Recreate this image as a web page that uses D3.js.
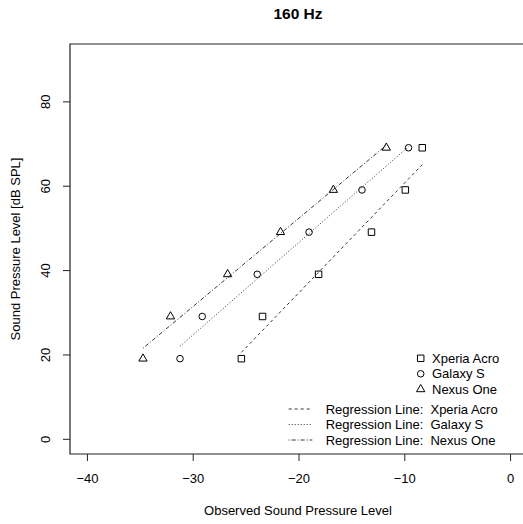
<!DOCTYPE html>
<html>
<head>
<meta charset="utf-8">
<script src="https://cdn.jsdelivr.net/npm/d3@7"></script>
<style>
  body { margin: 0; background: #fff; overflow: hidden; }
  svg { display: block; font-family: "Liberation Sans", Arial, Helvetica, sans-serif; }
</style>
</head>
<body>
<div id="chart"></div>
<script>
// levels measured (y) and the observed level per phone (x)
var levels = [19, 29, 39, 49, 59, 69];
var xperiaX = [-25.4, -23.4, -18.1, -13.1, -9.9, -8.3];
var galaxyX = [-31.2, -29.1, -23.9, -19.0, -14.0, -9.6];
var nexusX = [-34.7, -32.1, -26.7, -21.7, -16.7, -11.7];

var phones = ["Xperia Acro", "Galaxy S", "Nexus One"];
var xTicks = [-40, -30, -20, -10, 0];
var yTicks = [0, 20, 40, 60, 80];

var W = 523, H = 524;
var margin = { left: 70, top: 44, right: -4, bottom: 70 };

var svg = d3.select("#chart").append("svg")
  .attr("width", W)
  .attr("height", H);

// R style limits: xlim c(-40,0), ylim c(0,90) plus 4%
var x = d3.scaleLinear().domain([-41.6, 1.6]).range([margin.left, W - margin.right]);
var y = d3.scaleLinear().domain([-3.6, 93.6]).range([H - margin.bottom, margin.top]);

var shapes = [d3.symbolSquare, d3.symbolCircle, d3.symbolTriangle];
var sizes = [42, 34, 30];
var dashes = ["3,3", "1,2", "1,2,4,2"];

var series = [xperiaX, galaxyX, nexusX].map(function (xs, i) {
  return { name: phones[i], pts: xs.map(function (v, j) { return [v, levels[j]]; }), k: i };
});

// least squares fit y ~ x
function fit(pts) {
  var mx = d3.mean(pts, d => d[0]), my = d3.mean(pts, d => d[1]);
  var sxy = d3.sum(pts, d => (d[0] - mx) * (d[1] - my));
  var sxx = d3.sum(pts, d => (d[0] - mx) * (d[0] - mx));
  var b = sxy / sxx;
  return function (v) { return my + b * (v - mx); };
}

var plot = svg.append("g");

series.forEach(function (s) {
  var f = fit(s.pts);
  var ext = d3.extent(s.pts, d => d[0]);
  plot.append("line")
    .attr("x1", x(ext[0])).attr("y1", y(f(ext[0])))
    .attr("x2", x(ext[1])).attr("y2", y(f(ext[1])))
    .attr("stroke", "#000")
    .attr("stroke-width", 0.8)
    .attr("stroke-dasharray", dashes[s.k]);

  plot.selectAll(".p" + s.k)
    .data(s.pts)
    .enter()
    .append("path")
    .attr("class", "p" + s.k)
    .attr("d", d3.symbol().type(shapes[s.k]).size(sizes[s.k]))
    .attr("transform", d => "translate(" + x(d[0]) + "," + y(d[1]) + ")")
    .attr("fill", "none")
    .attr("stroke", "#000")
    .attr("stroke-width", 1);
});

// axes
var xAxis = svg.append("g")
  .attr("transform", "translate(0," + (H - margin.bottom) + ")")
  .call(d3.axisBottom(x).tickValues(xTicks).tickSize(7).tickSizeOuter(0).tickPadding(13));
xAxis.select(".domain").remove();
xAxis.selectAll("text").attr("font-size", 13).attr("font-family", null).attr("fill", "#000");
xAxis.selectAll("line").attr("stroke", "#222");

var yAxis = svg.append("g")
  .attr("transform", "translate(" + margin.left + ",0)")
  .call(d3.axisLeft(y).tickValues(yTicks).tickSize(7).tickSizeOuter(0));
yAxis.select(".domain").remove();
yAxis.selectAll("line").attr("stroke", "#222");
yAxis.selectAll("text")
  .attr("font-size", 13).attr("font-family", null).attr("fill", "#000")
  .attr("transform", "rotate(-90)")
  .attr("text-anchor", "middle")
  .attr("x", 0).attr("y", -20.5).attr("dy", null);

// box (right side falls past the edge of the picture)
var bx0 = margin.left, by0 = margin.top, by1 = H - margin.bottom, bx1 = W + 20;
svg.append("path")
  .attr("d", "M" + bx1 + "," + by0 + "H" + bx0 + "V" + by1 + "H" + bx1)
  .attr("fill", "none")
  .attr("stroke", "#222")
  .attr("stroke-width", 1.2);

// titles
svg.append("text")
  .attr("x", 298)
  .attr("y", 18.5)
  .attr("text-anchor", "middle")
  .attr("font-weight", "bold")
  .attr("font-size", 15.5)
  .text("160 Hz");

svg.append("text")
  .attr("x", 298)
  .attr("y", 514.5)
  .attr("text-anchor", "middle")
  .attr("font-size", 13)
  .text("Observed Sound Pressure Level");

svg.append("text")
  .attr("transform", "translate(19.5," + 249 + ") rotate(-90)")
  .attr("text-anchor", "middle")
  .attr("font-size", 13)
  .text("Sound Pressure Level [dB SPL]");

// legend for points
var leg1 = svg.append("g");
phones.forEach(function (p, i) {
  var cy = 358.3 + i * 15.5;
  leg1.append("path")
    .attr("d", d3.symbol().type(shapes[i]).size(sizes[i]))
    .attr("transform", "translate(420.7," + cy + ")")
    .attr("fill", "none").attr("stroke", "#000").attr("stroke-width", 1);
  leg1.append("text")
    .attr("x", 432).attr("y", cy).attr("dy", "0.36em")
    .attr("font-size", 13)
    .text(p);
});

// legend for regression lines
var leg2 = svg.append("g");
phones.forEach(function (p, i) {
  var cy = 409 + i * 15.5;
  leg2.append("line")
    .attr("x1", 288.7).attr("x2", 312.3)
    .attr("y1", cy).attr("y2", cy)
    .attr("stroke", "#000").attr("stroke-width", 0.8)
    .attr("stroke-dasharray", dashes[i]);
  leg2.append("text")
    .attr("x", 325.7).attr("y", cy).attr("dy", "0.36em")
    .attr("font-size", 13)
    .attr("xml:space", "preserve")
    .style("white-space", "pre")
    .text("Regression Line:  " + p);
});
</script>
</body>
</html>
